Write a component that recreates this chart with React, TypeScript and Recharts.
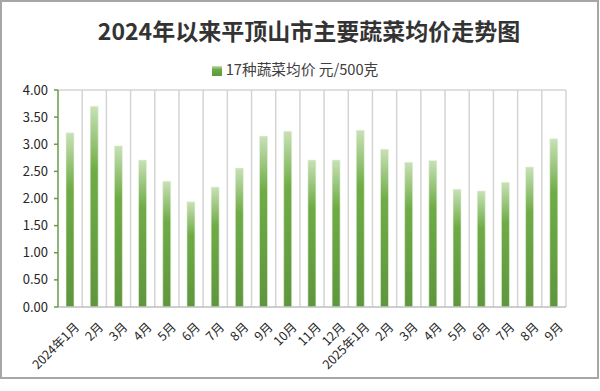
import { Bar, BarChart, CartesianGrid, Legend, XAxis, YAxis } from "recharts"

const months = [
  "2024年1月", "2月", "3月", "4月", "5月", "6月", "7月", "8月", "9月", "10月", "11月", "12月",
  "2025年1月", "2月", "3月", "4月", "5月", "6月", "7月", "8月", "9月",
]

const prices = [
  3.21, 3.7, 2.97, 2.71, 2.32, 1.94, 2.21, 2.56, 3.15, 3.24, 2.71, 2.71,
  3.26, 2.91, 2.67, 2.7, 2.17, 2.14, 2.3, 2.58, 3.1,
]

const yTicks = [0, 0.5, 1, 1.5, 2, 2.5, 3, 3.5, 4]

const data = months.map((m, i) => ({ key: `${i}`, label: m, price: prices[i] }))

const FONT = '"Noto Sans CJK SC", "Noto Sans", sans-serif'

function MonthTick(props: any) {
  const { x, y, payload } = props
  return (
    <text
      transform={`translate(${x + 6},${y + 9}) rotate(-45)`}
      textAnchor="end"
      dominantBaseline="central"
      fontSize={12.5}
      fill="#262626"
      fontFamily={FONT}
    >
      {months[payload.index]}
    </text>
  )
}

export default function App() {
  return (
    <div style={{ position: "relative", width: 600, height: 391, background: "#fff", fontFamily: FONT }}>
      <style>{"body{margin:0}"}</style>
      <div
        style={{
          position: "absolute",
          left: 0,
          top: 0,
          width: 599,
          height: 379,
          boxSizing: "border-box",
          border: "2px solid #a6a6a6",
        }}
      />
      <div
        style={{
          position: "absolute",
          top: 13,
          left: 0,
          width: 618,
          textAlign: "center",
          fontSize: 23,
          fontWeight: 700,
          color: "#333",
        }}
      >
        2024年以来平顶山市主要蔬菜均价走势图
      </div>
      <BarChart
        width={600}
        height={391}
        data={data}
        margin={{ top: 90, right: 34, left: 0, bottom: 0 }}
        style={{ position: "absolute", left: 0, top: 0 }}
      >
        <defs>
          <linearGradient id="barFill" x1="0" y1="0" x2="0" y2="1">
            <stop offset="0%" stopColor="#c8e1b6" />
            <stop offset="32%" stopColor="#6fac46" />
            <stop offset="100%" stopColor="#5e963d" />
          </linearGradient>
        </defs>
        <CartesianGrid
          stroke="#d4d4d4"
          strokeWidth={1.5}
          verticalCoordinatesGenerator={({ offset }: any) =>
            months.map((_, i) => offset.left + ((i + 1) * offset.width) / months.length)
          }
          horizontalCoordinatesGenerator={({ offset }: any) => [offset.top]}
        />
        <XAxis
          dataKey="key"
          interval={0}
          height={84}
          tickLine={false}
          axisLine={{ stroke: "#bfbfbf", strokeWidth: 1.5 }}
          tick={<MonthTick />}
        />
        <YAxis
          width={58}
          domain={[0, 4]}
          ticks={yTicks}
          interval={0}
          tickFormatter={(v: number) => v.toFixed(2)}
          tick={{ fontSize: 13, fill: "#262626", fontFamily: FONT }}
          tickSize={4}
          tickMargin={6}
          axisLine={{ stroke: "#6b9a48", strokeWidth: 1.5 }}
          tickLine={{ stroke: "#6b9a48", strokeWidth: 1.5 }}
        />
        <Legend
          verticalAlign="middle"
          iconType="square"
          iconSize={10}
          wrapperStyle={{ top: 58, left: 0, width: 600, fontSize: 14.7, fontFamily: FONT }}
          formatter={(value: string) => <span style={{ color: "#404040" }}>{value}</span>}
        />
        <Bar
          dataKey="price"
          name="17种蔬菜均价 元/500克"
          fill="url(#barFill)"
          stroke="#e8f2e0"
          strokeWidth={0.6}
          barSize={8}
          legendType="square"
          isAnimationActive={false}
        />
      </BarChart>
    </div>
  )
}
